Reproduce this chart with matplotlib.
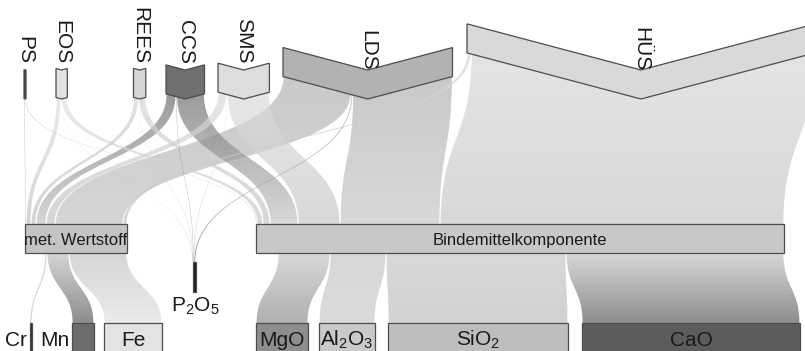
import numpy as np
import matplotlib
matplotlib.use('Agg')
import matplotlib.pyplot as plt
from matplotlib.path import Path
from matplotlib.patches import PathPatch, Polygon, Rectangle
from matplotlib.colors import to_rgb

plt.rcParams['font.family'] = ['Liberation Sans', 'DejaVu Sans']
plt.rcParams['mathtext.fontset'] = 'custom'
plt.rcParams['mathtext.rm'] = 'Liberation Sans'
plt.rcParams['mathtext.default'] = 'regular'

# ---------------- data ----------------
source_nodes = ['PS', 'EOS', 'REES', 'CCS', 'SMS', 'LDS', 'HÜS']
to_metal = [1, 5, 5, 10, 9, 68, 4]
to_p2o5 = [0, 0.3, 0.3, 0.5, 0.4, 1.5, 0]
to_binder = [1, 6, 7, 28, 42, 100, 344]
middle_nodes = ['met. Wertstoff', 'P2O5', 'Bindemittelkomponente']
metal_products = ['Cr', 'Mn', 'Fe']
metal_values = [2, 22, 58]
binder_products = ['MgO', 'Al2O3', 'SiO2', 'CaO']
binder_values = [52, 56, 180, 218]

display = {'P2O5': 'P$_2$O$_5$', 'Al2O3': 'Al$_2$O$_3$', 'SiO2': 'SiO$_2$'}

# ---------------- layout / style ----------------
node_x = {'PS': 24, 'EOS': 56, 'REES': 133.5, 'CCS': 166, 'SMS': 218,
          'LDS': 283, 'HÜS': 467,
          'met. Wertstoff': 25, 'P2O5': 192.5, 'Bindemittelkomponente': 256,
          'Cr': 30, 'Mn': 72, 'Fe': 104, 'MgO': 256, 'Al2O3': 319,
          'SiO2': 388, 'CaO': 582}
node_color = {'PS': '#3a3a3a', 'EOS': '#e2e2e2', 'REES': '#d6d6d6',
              'CCS': '#707070', 'SMS': '#dddddd', 'LDS': '#b2b2b2',
              'HÜS': '#d9d9d9',
              'met. Wertstoff': '#c4c4c4', 'P2O5': '#1e1e1e',
              'Bindemittelkomponente': '#c8c8c8',
              'Cr': '#2a2a2a', 'Mn': '#6c6c6c', 'Fe': '#e3e3e3',
              'MgO': '#8e8e8e', 'Al2O3': '#cacaca', 'SiO2': '#bebebe',
              'CaO': '#5c5c5c'}
link_start_color = {'PS': '#bdbdbd'}
link_end_color = {'Cr': '#c0c0c0', 'Mn': '#5a5a5a', 'P2O5': '#707070'}
ALPHA = 0.7
EDGE = '#4d4d4d'
TXT = '#1a1a1a'

SLOPE = 0.265
SRC_BASE = 99
SRC_H = 29
mid_y = {'met. Wertstoff': (224, 253), 'Bindemittelkomponente': (224, 253),
         'P2O5': (262, 292)}
PROD_Y = (323, 362)

# ---------------- flows ----------------
flows = []
for s, m, p, b in zip(source_nodes, to_metal, to_p2o5, to_binder):
    if m:
        flows.append((s, 'met. Wertstoff', m))
    if p:
        flows.append((s, 'P2O5', p))
    if b:
        flows.append((s, 'Bindemittelkomponente', b))
for t, v in zip(metal_products, metal_values):
    flows.append(('met. Wertstoff', t, v))
for t, v in zip(binder_products, binder_values):
    flows.append(('Bindemittelkomponente', t, v))

all_nodes = source_nodes + middle_nodes + metal_products + binder_products
sum_in = {n: 0.0 for n in all_nodes}
sum_out = {n: 0.0 for n in all_nodes}
for s, t, v in flows:
    sum_out[s] += v
    sum_in[t] += v
width = {n: max(sum_in[n], sum_out[n]) for n in all_nodes}

out_pos, in_pos = {}, {}
for n in all_nodes:
    outs = sorted([f for f in flows if f[0] == n], key=lambda f: node_x[f[1]])
    c = node_x[n] + width[n] - sum_out[n]
    for f in outs:
        out_pos[(f[0], f[1])] = (c, c + f[2])
        c += f[2]
    ins = sorted([f for f in flows if f[1] == n], key=lambda f: node_x[f[0]])
    c = node_x[n]
    for f in ins:
        in_pos[(f[0], f[1])] = (c, c + f[2])
        c += f[2]


def chev_center(n):
    return node_x[n] + width[n] / 2


def chev_bottom(n, x):
    return SRC_BASE - SLOPE * abs(x - chev_center(n))


def top_of(n):
    if n in mid_y:
        return mid_y[n][0]
    return PROD_Y[0]


fig = plt.figure(figsize=(8.05, 3.51), dpi=100)
ax = fig.add_axes([0, 0, 1, 1])
ax.set_xlim(0, 805)
ax.set_ylim(351, 0)
ax.axis('off')


def ribbon(s, t, v):
    xa0, xb0 = out_pos[(s, t)]
    xa1, xb1 = in_pos[(s, t)]
    pad = min(0.6, 0.2 * v)
    xa0 += pad; xb0 -= pad; xa1 += pad; xb1 -= pad
    top_pts = []
    if s in source_nodes:
        ya0 = chev_bottom(s, xa0)
        yb0 = chev_bottom(s, xb0)
        xc = chev_center(s)
        if xa0 < xc < xb0:
            top_pts = [(xc, SRC_BASE)]
    else:
        ya0 = yb0 = mid_y[s][1]
    y1 = top_of(t)
    yma = (ya0 + y1) / 2
    ymb = (yb0 + y1) / 2
    verts = [(xa0, ya0), (xa0, yma), (xa1, yma), (xa1, y1), (xb1, y1),
             (xb1, ymb), (xb0, ymb), (xb0, yb0)] + top_pts + [(xa0, ya0)]
    codes = ([Path.MOVETO] + [Path.CURVE4] * 3 + [Path.LINETO] +
             [Path.CURVE4] * 3 + [Path.LINETO] * len(top_pts) + [Path.CLOSEPOLY])
    path = Path(verts, codes)
    patch = PathPatch(path, transform=ax.transData, facecolor='none',
                      edgecolor='none')
    c0 = np.array(to_rgb(link_start_color.get(s, node_color[s])))
    c1 = np.array(to_rgb(link_end_color.get(t, node_color[t])))
    ytop = min(ya0, yb0)
    n = 256
    tt = np.linspace(0, 1, n)[:, None]
    rgb = c0[None, :] * (1 - tt) + c1[None, :] * tt
    img = np.concatenate([rgb, np.full((n, 1), ALPHA)], axis=1)[:, None, :]
    xs = [xa0, xb0, xa1, xb1]
    im = ax.imshow(img, extent=(min(xs) - 2, max(xs) + 2, y1, ytop),
                   origin='upper', aspect='auto', interpolation='nearest',
                   zorder=1)
    im.set_clip_path(patch)


for s, t, v in sorted(flows, key=lambda f: -f[2]):
    ribbon(s, t, v)

ax.set_xlim(0, 805)
ax.set_ylim(351, 0)

# source nodes (chevrons)
for n in source_nodes:
    w = width[n]
    xl, xr, xc = node_x[n], node_x[n] + w, chev_center(n)
    d = SLOPE * w / 2
    yt = SRC_BASE - d - SRC_H
    pts = [(xl, yt), (xc, yt + d), (xr, yt), (xr, yt + SRC_H),
           (xc, yt + SRC_H + d), (xl, yt + SRC_H)]
    ax.add_patch(Polygon(pts, closed=True, facecolor=node_color[n],
                         edgecolor=EDGE, lw=0.9, zorder=3))
    label_end = 64 if d < 10 else SRC_BASE - SRC_H + 1
    ax.text(xc, label_end, n, rotation=270, ha='center', va='bottom',
            fontsize=15, color=TXT, zorder=4)

# middle nodes
for n in middle_nodes:
    y0, y1 = mid_y[n]
    ax.add_patch(Rectangle((node_x[n], y0), width[n], y1 - y0,
                           facecolor=node_color[n], edgecolor=EDGE, lw=0.9,
                           zorder=3))
    xc = node_x[n] + width[n] / 2
    if n == 'P2O5':
        ax.text(xc + 1, y1 + 4, display[n], ha='center', va='top',
                fontsize=15, color=TXT, zorder=4)
    else:
        ax.text(xc, 245, n, ha='center', va='baseline', fontsize=12,
                color=TXT, zorder=4)

# product nodes
left_labelled = ['Cr', 'Mn']
for n in metal_products + binder_products:
    y0, y1 = PROD_Y
    ax.add_patch(Rectangle((node_x[n], y0), width[n], y1 - y0,
                           facecolor=node_color[n], edgecolor=EDGE, lw=0.9,
                           zorder=3))
    lab = display.get(n, n)
    if n in left_labelled:
        ax.text(node_x[n] - 3, 346, lab, ha='right', va='baseline',
                fontsize=15, color=TXT, zorder=4)
    else:
        ax.text(node_x[n] + width[n] / 2, 346, lab, ha='center',
                va='baseline', fontsize=15, color=TXT, zorder=4)

fig.savefig('out.png', dpi=100)
